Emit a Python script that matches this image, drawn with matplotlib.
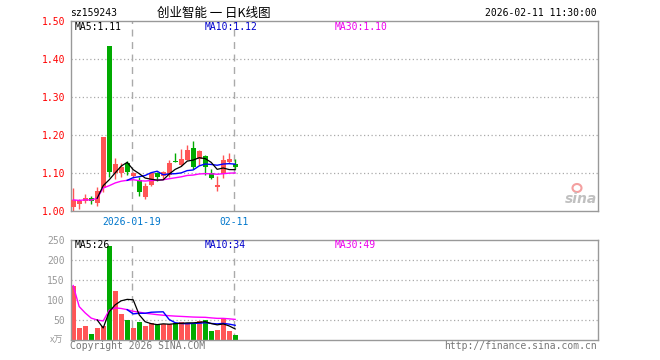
import numpy as np
import pandas as pd
import matplotlib
matplotlib.use("Agg")
import matplotlib.pyplot as plt
from matplotlib.patches import Ellipse

# daily k-line data
dates = ["2026-01-05", "2026-01-06", "2026-01-07", "2026-01-08", "2026-01-09",
         "2026-01-12", "2026-01-13", "2026-01-14", "2026-01-15", "2026-01-16",
         "2026-01-19", "2026-01-20", "2026-01-21", "2026-01-22", "2026-01-23",
         "2026-01-26", "2026-01-27", "2026-01-28", "2026-01-29", "2026-01-30",
         "2026-02-02", "2026-02-03", "2026-02-04", "2026-02-05", "2026-02-06",
         "2026-02-09", "2026-02-10", "2026-02-11"]
opens = [1.010, 1.018, 1.027, 1.036, 1.021, 1.060, 1.435, 1.100, 1.100, 1.128,
         1.093, 1.082, 1.038, 1.069, 1.100, 1.093, 1.096, 1.132, 1.122, 1.135,
         1.167, 1.137, 1.146, 1.100, 1.065, 1.098, 1.129, 1.124]
highs = [1.062, 1.032, 1.045, 1.039, 1.064, 1.196, 1.435, 1.141, 1.128, 1.133,
         1.104, 1.091, 1.074, 1.102, 1.102, 1.106, 1.135, 1.153, 1.165, 1.175,
         1.185, 1.160, 1.147, 1.110, 1.093, 1.148, 1.152, 1.138]
lows = [1.000, 1.006, 1.021, 1.018, 1.014, 1.052, 1.091, 1.084, 1.091, 1.096,
        1.088, 1.041, 1.032, 1.067, 1.080, 1.085, 1.091, 1.129, 1.120, 1.135,
        1.110, 1.122, 1.095, 1.084, 1.053, 1.088, 1.128, 1.110]
closes = [1.030, 1.027, 1.034, 1.027, 1.053, 1.196, 1.104, 1.125, 1.116, 1.102,
          1.100, 1.052, 1.067, 1.100, 1.091, 1.103, 1.128, 1.129, 1.137, 1.162,
          1.117, 1.159, 1.117, 1.088, 1.070, 1.135, 1.138, 1.116]
volumes = [136, 31, 36, 16, 31, 36, 234, 123, 66, 49,
           31, 46, 36, 42, 37, 41, 41, 43, 46, 43,
           41, 48, 51, 23, 26, 53, 23, 13]

price_ticks = [1.00, 1.10, 1.20, 1.30, 1.40, 1.50]
vol_ticks = [50, 100, 150, 200, 250]
date_marks = ["2026-01-19", "2026-02-11"]
date_labels = ["2026-01-19", "02-11"]

RED = "#ff5555"
GREEN = "#00aa00"
GRID = "#aaaaaa"
SPINE = "#999999"
MONO = "DejaVu Sans Mono"

df = pd.DataFrame({"open": opens, "high": highs, "low": lows,
                   "close": closes, "vol": volumes}, index=dates)
x = np.arange(len(df))
up = df["close"] >= df["open"]
colors = [RED if u else GREEN for u in up]

W, H = 660, 360
fig = plt.figure(figsize=(6.6, 3.6), dpi=100)


def box(left, top, right, bottom):
    return [left / W, 1 - bottom / H, (right - left) / W, (bottom - top) / H]


ax = fig.add_axes(box(70.5, 21, 597.5, 211.3))
axv = fig.add_axes(box(70.5, 240, 597.5, 340))

mark_x = [dates.index(d) - 0.25 for d in date_marks]

for a in (ax, axv):
    a.set_xlim(-0.45, 87.4)
    for s in a.spines.values():
        s.set_color(SPINE)
        s.set_linewidth(1.0)
    for mx in mark_x:
        a.axvline(mx, color=GRID, lw=1.0, ls=(0, (5, 4)), zorder=0)
    a.tick_params(length=0)

# price panel
for p in price_ticks[1:-1]:
    ax.axhline(p, color=GRID, lw=0.9, ls=(0, (1, 2)), zorder=0)
ax.vlines(x, df["low"], df["high"], colors=colors, lw=1.0, zorder=2)
body_bottom = np.minimum(df["open"], df["close"])
body_h = np.maximum(np.abs(df["close"] - df["open"]), 0.002)
ax.bar(x, body_h, bottom=body_bottom, width=0.8, color=colors, lw=0, zorder=3)

ma5 = df["close"].rolling(5).mean()
ma10 = df["close"].rolling(10).mean()
ma30 = df["close"].rolling(30, min_periods=1).mean()
ax.plot(x, ma30, color="#ff00ff", lw=1.0, zorder=4)
ax.plot(x, ma10, color="#0000ff", lw=1.0, zorder=4)
ax.plot(x, ma5, color="black", lw=0.9, zorder=4)

ax.set_ylim(1.00, 1.50)
ax.set_yticks(price_ticks)
ax.set_yticklabels([f"{p:.2f}" for p in price_ticks], family=MONO,
                   fontsize=7, color="#ff0000")
ax.set_xticks(mark_x)
ax.set_xticklabels(date_labels, family=MONO, fontsize=7, color="#0077cc")
ax.tick_params(axis="y", pad=4)
ax.tick_params(axis="x", pad=4)

# volume panel
for v in vol_ticks[:-1]:
    axv.axhline(v, color=GRID, lw=0.9, ls=(0, (1, 2)), zorder=0)
axv.bar(x, df["vol"], width=0.8, color=colors, lw=0, zorder=2)
v5 = df["vol"].rolling(5).mean()
v10 = df["vol"].rolling(10).mean()
v30 = df["vol"].rolling(30, min_periods=1).mean()
axv.plot(x, v30, color="#ff00ff", lw=1.0, zorder=4)
axv.plot(x, v10, color="#0000ff", lw=1.0, zorder=4)
axv.plot(x, v5, color="black", lw=0.9, zorder=4)
axv.set_ylim(0, 250)
axv.set_yticks(vol_ticks)
axv.set_yticklabels([str(v) for v in vol_ticks], family=MONO,
                    fontsize=7, color="#999999")
axv.tick_params(axis="y", pad=4)
axv.set_xticks([])


def ftext(px, py, s, **kw):
    kw.setdefault("family", MONO)
    kw.setdefault("fontsize", 7)
    fig.text(px / W, 1 - py / H, s, **kw)


# header
ftext(70, 13, "sz159243", va="center", ha="left", color="black")
ftext(214, 13, "创业智能 一 日K线图", va="center", ha="center", color="black",
      family=["Noto Sans CJK SC", "DejaVu Sans"], fontsize=9)
ftext(597, 13, "2026-02-11 11:30:00", va="center", ha="right", color="black")

# moving average legends
ftext(75, 26.5, "MA5:1.11", va="center", color="black")
ftext(205, 26.5, "MA10:1.12", va="center", color="#0000cc")
ftext(335, 26.5, "MA30:1.10", va="center", color="#ee00ee")
ftext(75, 245.5, "MA5:26", va="center", color="black")
ftext(205, 245.5, "MA10:34", va="center", color="#0000cc")
ftext(335, 245.5, "MA30:49", va="center", color="#ee00ee")

# footer
ftext(57, 340, "x万", va="center", ha="center", color="#999999",
      family=["Noto Sans CJK SC", "DejaVu Sans"], fontsize=6.5)
ftext(70, 346, "Copyright 2026 SINA.COM", va="center", ha="left",
      color="#777777")
ftext(597, 346, "http://finance.sina.com.cn", va="center", ha="right",
      color="#777777")

# sina watermark
ftext(581, 199, "sina", va="center", ha="center", color="#c0c0c0",
      family="DejaVu Sans", fontsize=10, fontweight="bold", style="italic")
fig.patches.append(Ellipse((577 / W, 1 - 188 / H), 9 / W, 8 / H,
                           transform=fig.transFigure, facecolor="none",
                           edgecolor="#f4a0a0", lw=1.5))

fig.savefig("out.png", dpi=100)
